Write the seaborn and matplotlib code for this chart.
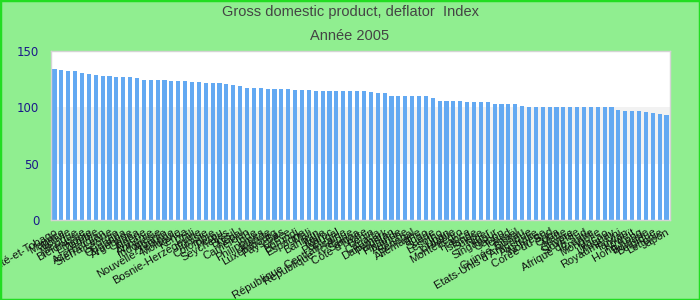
import matplotlib
matplotlib.use("Agg")
import matplotlib.pyplot as plt
import seaborn as sns
import pandas as pd
from matplotlib.patches import Rectangle

countries = [
    "Trinité-et-Tobago", "Maurice", "Bolivie", "Mexique", "Biélorussie", "Ethiopie",
    "Zambie", "Azerbaïdjan", "Sierra Leone", "Géorgie", "Ouganda", "Argentine",
    "Ghana", "Algérie", "Arménie", "Indonésie", "Albanie", "Nouvelle-Zélande",
    "Moldavie", "Kenya", "Chili", "Bosnie-Herzégovine", "Tunisie", "Colombie",
    "Pérou", "Seychelles", "Brésil", "Népal", "Cameroun", "Inde",
    "Philippines", "Irlande", "Luxembourg", "Pays-Bas", "Grèce", "Burundi",
    "Espagne", "Mali", "Bahreïn", "Italie", "Maroc", "Portugal",
    "République Centrafricaine", "République Tchèque", "Samoa", "Côte d'Ivoire", "Bénin", "Canada",
    "Danemark", "Pakistan", "Finlande", "Autriche", "Sénégal", "Allemagne",
    "Togo", "Suède", "Lesotho", "Liban", "Jordanie", "Monténégro",
    "France", "Islande", "Suisse", "Niger", "Singapour", "Gabon",
    "Tchad", "Israël", "Guinée-Bissau", "Etats-Unis d'Amérique", "Australie", "Norvège",
    "Corée du Sud", "Cuba", "Malte", "Chypre", "Slovénie", "Afrique du Sud",
    "Croatie", "Mongolie", "Macao", "Uruguay", "Royaume-Uni", "Taïwan",
    "Koweït", "Hong Kong", "Bulgarie", "Belgique", "Lettonie", "Japon",
]

values = [
    133.7, 132.8, 131.9, 131.9, 130.1, 129.2,
    128.3, 127.4, 127.4, 126.5, 126.5, 126.5,
    125.6, 124.7, 124.7, 124.7, 124.7, 123.8,
    123.8, 123.0, 122.1, 122.1, 121.2, 121.2,
    121.2, 120.3, 119.4, 118.5, 117.6, 117.6,
    117.6, 116.7, 116.7, 116.7, 116.7, 115.8,
    115.8, 115.8, 114.9, 114.9, 114.9, 114.9,
    114.1, 114.1, 114.1, 114.1, 113.2, 112.3,
    112.3, 110.5, 110.5, 110.5, 110.5, 110.5,
    110.5, 108.7, 106.0, 106.0, 106.0, 106.0,
    105.1, 105.1, 105.1, 104.3, 103.4, 103.4,
    103.4, 103.4, 101.6, 100.0, 100.0, 100.0,
    100.0, 100.0, 100.0, 100.0, 100.0, 100.0,
    100.0, 100.0, 100.0, 100.0, 98.0, 97.1,
    97.1, 97.1, 96.2, 95.3, 94.5, 93.6,
]

yticks = [0, 50, 100, 150]
title_line1 = "Gross domestic product, deflator  Index"
title_line2 = "Année 2005"

df = pd.DataFrame({"pays": countries, "valeur": values})

sns.set_theme(style="white")
plt.rcParams["font.family"] = ["DejaVu Sans"]

fig = plt.figure(figsize=(7, 3), dpi=100, facecolor="#90ee90")
ax = fig.add_axes([51 / 700, 1 - 220 / 300, 619 / 700, 169 / 300])
ax.set_facecolor("white")

ax.axhspan(50, 100, color="#f2f2f2", zorder=0, lw=0)
sns.barplot(data=df, x="pays", y="valeur", color="#63a9f2", saturation=1,
            width=0.6, ax=ax, zorder=2, linewidth=0, edgecolor="none")

ax.set_ylim(0, 150)
ax.set_xlim(-0.5, len(countries) - 0.5)
ax.set_yticks(yticks)
ax.set_yticklabels([str(t) for t in yticks], color="#1a1a8a", fontsize=8.5)
ax.tick_params(axis="y", length=0, pad=8.5)
ax.tick_params(axis="x", length=0, pad=5)
ax.set_xticks(range(len(countries)))
ax.set_xticklabels(countries, rotation=30, ha="right", rotation_mode="anchor",
                   fontsize=8.0, color="#111111",
                   family=["Liberation Sans", "DejaVu Sans"])
ax.set_xlabel("")
ax.set_ylabel("")
for s in ax.spines.values():
    s.set_color("#d4d4d4")
    s.set_linewidth(1)

fig.text(0.5, 1 - 12 / 300, title_line1, ha="center", va="center",
         fontsize=10.5, color="#444444",
         family=["Liberation Sans Narrow", "Liberation Sans", "DejaVu Sans"])
fig.text(0.5, 1 - 36 / 300, title_line2, ha="center", va="center",
         fontsize=10.5, color="#444444",
         family=["Liberation Sans Narrow", "Liberation Sans", "DejaVu Sans"])

fig.patches.append(Rectangle((0, 0), 1, 1, transform=fig.transFigure,
                             fill=False, edgecolor="#22dd22", lw=2.5, zorder=10))

fig.savefig("out.png", dpi=100, facecolor=fig.get_facecolor())
